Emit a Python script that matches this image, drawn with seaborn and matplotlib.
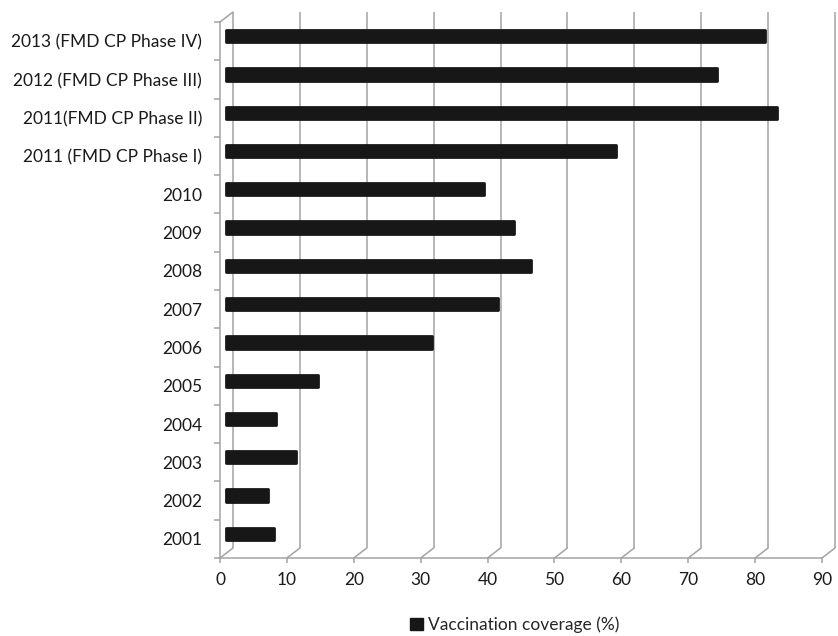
import matplotlib
matplotlib.use("Agg")
import matplotlib.pyplot as plt
from matplotlib.transforms import ScaledTranslation
from matplotlib.patches import Patch
from matplotlib.lines import Line2D
import seaborn as sns
import pandas as pd
import numpy as np

periods = [
    "2013 (FMD CP Phase IV)",
    "2012 (FMD CP Phase III)",
    "2011(FMD CP Phase II)",
    "2011 (FMD CP Phase I)",
    "2010", "2009", "2008", "2007", "2006",
    "2005", "2004", "2003", "2002", "2001",
]
coverage = [80.7, 73.5, 82.5, 58.4, 38.6, 43.2, 45.6, 40.8, 30.8,
            13.8, 7.6, 10.5, 6.4, 7.2]
x_ticks = [0, 10, 20, 30, 40, 50, 60, 70, 80, 90]
series_label = "Vaccination coverage (%)"

df = pd.DataFrame({"period": periods, "coverage": coverage})

sns.set_theme(style="white")
plt.rcParams["font.family"] = ["Lato", "DejaVu Sans"]

grid_col = "#a3a3a3"
bar_col = "#171717"
text_col = "#1a1a1a"
fs = 12.5

fig = plt.figure(figsize=(8.38, 6.36), dpi=100)
ax = fig.add_axes([220 / 838, 1 - 558 / 636, 602 / 838, 536 / 636])

sns.barplot(data=df, x="coverage", y="period", orient="h", color=bar_col,
            width=0.32, saturation=1, ax=ax, zorder=3)

ax.set_xlim(0, 90)
ax.set_ylim(len(periods) - 0.5, -0.5)

# depth offsets: back wall sits 13 px right / 10 px up, bars halfway
back = ax.transData + ScaledTranslation(13 / 100, 10 / 100, fig.dpi_scale_trans)
mid = ax.transData + ScaledTranslation(5.5 / 100, 5 / 100, fig.dpi_scale_trans)

for p in ax.patches:
    p.set_transform(mid)
    p.set_edgecolor(bar_col)
    p.set_linewidth(2)
    p.set_joinstyle("round")
    p.set_clip_on(False)

y_top, y_bot = -0.5, len(periods) - 0.5

# back-wall gridlines
ax.vlines(x_ticks, y_bot, y_top, colors=grid_col, linewidth=1.1,
          transform=back, clip_on=False, zorder=1)

# floor diagonals from front ticks to back wall, plus top-left wall edge
inv = ax.transData.inverted()
def to_back(x, y):
    px, py = ax.transData.transform((x, y))
    return inv.transform((px + 13, py + 10))

for xv in x_ticks:
    bx, by = to_back(xv, y_bot)
    ax.add_line(Line2D([xv, bx], [y_bot, by], color=grid_col, lw=1.1,
                       clip_on=False, zorder=1))
tx, ty = to_back(0, y_top)
ax.add_line(Line2D([0, tx], [y_top, ty], color=grid_col, lw=1.1,
                   clip_on=False, zorder=1))

for side in ["top", "right"]:
    ax.spines[side].set_visible(False)
for side in ["left", "bottom"]:
    ax.spines[side].set_color(grid_col)
    ax.spines[side].set_linewidth(1.1)

ax.set_xticks(x_ticks)
ax.set_xticklabels([str(v) for v in x_ticks])
ax.tick_params(axis="x", length=3.6, width=1.1, color=grid_col, pad=6.5,
               labelsize=fs, labelcolor=text_col, bottom=True)
ax.set_yticks(np.arange(len(periods)))
ax.set_yticklabels(periods)
ax.tick_params(axis="y", which="major", length=0, pad=13,
               labelsize=fs, labelcolor=text_col)
ax.set_yticks(np.arange(len(periods) + 1) - 0.5, minor=True)
ax.tick_params(axis="y", which="minor", length=4.5, width=1.1,
               color=grid_col, left=True)
ax.set_xlabel("")
ax.set_ylabel("")
ax.grid(False)

fig.legend(handles=[Patch(facecolor=bar_col, edgecolor=bar_col)],
           labels=[series_label], loc="center",
           bbox_to_anchor=(515 / 838, 1 - 625 / 636), frameon=False,
           handlelength=0.72, handleheight=0.72, handletextpad=0.3,
           fontsize=fs)

fig.savefig("out.png", dpi=100)
